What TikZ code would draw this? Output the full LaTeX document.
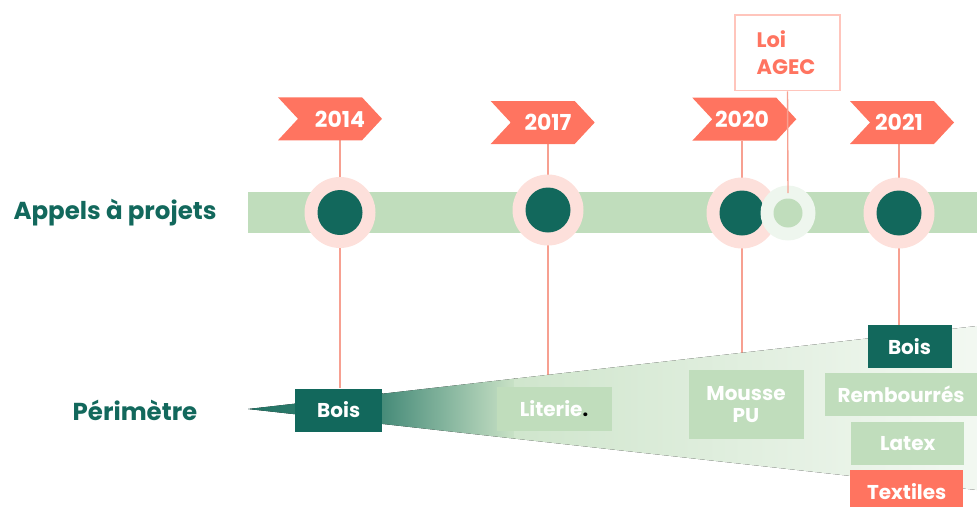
\documentclass[tikz,border=0pt]{standalone}
\usepackage{fontspec}
\setmainfont{Poppins}
\definecolor{teal}{HTML}{12685C}
\definecolor{salmon}{HTML}{FF7460}
\definecolor{pinkc}{HTML}{FDE0DB}
\definecolor{band}{HTML}{C0DDBC}
\definecolor{agecout}{HTML}{EEF6EE}
\definecolor{linec}{HTML}{F7A091}
\definecolor{agecborder}{HTML}{FFC5BC}
\pgfdeclarelayer{back}
\pgfdeclarelayer{lines}
\pgfsetlayers{back,lines,main}
\newcommand\yrflag[5]{% #1 line x, #2 left x, #3 top y, #4 name, #5 text
  \fill[salmon] (#2,#3) -- ++(84,0) -- ++(20,21.5) -- ++(-20,21.5) -- ++(-84,0) -- ++(20,-21.5) -- cycle;
  \node[yeartext] (#4) at (#1,#3+21.5) {#5};
  \coordinate (#4b) at (#1,#3+43);
}
\begin{document}
\begin{tikzpicture}[x=1pt,y=-1pt,
  yeartext/.style={text=white,font=\fontsize{22}{24}\selectfont\bfseries,inner sep=0},
  rowlabel/.style={text=teal,font=\fontsize{24.5}{27}\selectfont\bfseries,inner sep=0},
  outerc/.style={circle,fill=pinkc,inner sep=0,minimum size=71},
  innerc/.style={circle,fill=teal,inner sep=0,minimum size=45},
  boxd/.style={fill=teal,text=white,inner sep=0,font=\fontsize{20}{23}\selectfont\bfseries,align=center},
  boxl/.style={fill=band,text=white,inner sep=0,font=\fontsize{20}{23}\selectfont\bfseries,align=center},
  boxs/.style={fill=salmon,text=white,inner sep=0,font=\fontsize{20}{23}\selectfont\bfseries,align=center},
  vline/.style={draw=linec,line width=1.4pt}]
\useasboundingbox (0,0) rectangle (977,506);
\begin{pgfonlayer}{back}
  \fill[band] (248,192) rectangle (977,233);
\end{pgfonlayer}
% row labels
\node[rowlabel] (lap) at (115,213) {Appels à projets};
\node[rowlabel] (lper) at (135,410) {Périmètre};
% circles
\node[outerc] (c14) at (340,212.5) {};
\node[innerc] (d14) at (c14) {};
\node[outerc] (c17) at (548,210) {};
\node[innerc] (d17) at (c17) {};
\node[outerc] (c20) at (742,213) {};
\node[innerc] (d20) at (c20) {};
\node[circle,fill=agecout,inner sep=0,minimum size=55] (cag) at (788,213) {};
\node[circle,fill=band,inner sep=0,minimum size=29] (dag) at (cag) {};
\node[outerc] (c21) at (899,213) {};
\node[innerc] (d21) at (c21) {};
% wedge
\begin{scope}
  \clip (248,409) -- (977,326) -- (977,490) -- cycle;
  \fill[left color=teal!90!band, right color=teal!80!band] (248,300) rectangle (383,500);
  \fill[left color=teal!70!band, right color=band!85!white] (382,300) rectangle (515,500);
  \fill[left color=band!75!white, right color=band!20!white] (514,300) rectangle (977,500);
\end{scope}
% boxes
\node[boxd,minimum width=87,minimum height=43] (b14) at (338.7,410) {Bois};
\node[boxl,minimum width=115,minimum height=44] (lit) at (554,408.7) {Literie{\color{black}.}};
\node[boxl,minimum width=115,minimum height=69] (mpu) at (746,404.7) {Mousse\\[-1pt]PU};
\node[boxd,minimum width=84,minimum height=43] (b21) at (909.5,346.7) {Bois};
\node[boxl,minimum width=152,minimum height=43] (rem) at (901,394.2) {Rembourrés};
\node[boxl,minimum width=113,minimum height=43] (lat) at (907.7,443.3) {Latex};
\node[boxs,minimum width=113,minimum height=43] (tex) at (906.7,491.5) {Textiles};
% flags
\yrflag{340}{278}{97.3}{f14}{2014}
\yrflag{548}{490.7}{101}{f17}{2017}
\yrflag{742}{692.3}{97.7}{f20}{2020}
\yrflag{899}{850}{101}{f21}{2021}
% AGEC box
\node[draw=agecborder,line width=1.4pt,fill=white,minimum width=105,minimum height=75.7,text=salmon,font=\fontsize{21}{27}\selectfont\bfseries,align=left,inner sep=0] (agec) at (787.5,52.8) {Loi\\AGEC\hspace*{3pt}};
\coordinate (agend) at (788,193);
\draw[vline] (agec.south) -- (agend);
% vertical lines
\begin{pgfonlayer}{lines}
  \draw[vline] (f14b) -- (f14b |- b14.north);
  \draw[vline] (f17b) -- (f17b |- lit.north);
  \draw[vline] (f20b) -- (f20b |- mpu.north);
  \draw[vline] (f21b) -- (f21b |- b21.north);
\end{pgfonlayer}
\end{tikzpicture}
\end{document}
